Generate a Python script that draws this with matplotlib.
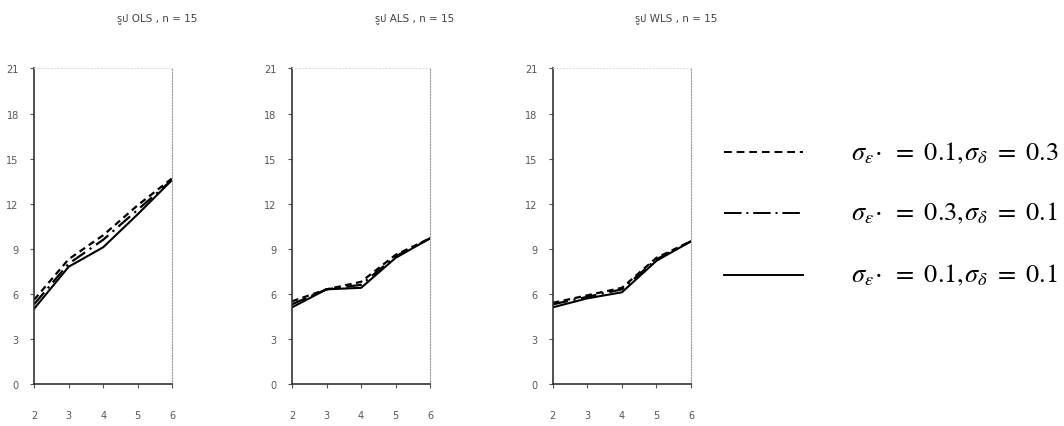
import matplotlib
matplotlib.use("Agg")
import matplotlib.pyplot as plt

# group sizes on the x axis
sizes = [2, 3, 4, 5, 6]

methods = ["OLS", "ALS", "WLS"]
titles = ["รูป OLS , n = 15", "รูป ALS , n = 15", "รูป WLS , n = 15"]

# sigma_eps = 0.1, sigma_delta = 0.3
dashed_vals = {
    "OLS": [5.6, 8.3, 9.9, 11.9, 13.7],
    "ALS": [5.5, 6.3, 6.8, 8.6, 9.7],
    "WLS": [5.4, 5.9, 6.4, 8.4, 9.5],
}
# sigma_eps = 0.3, sigma_delta = 0.1
dashdot_vals = {
    "OLS": [5.3, 8.0, 9.6, 11.6, 13.6],
    "ALS": [5.3, 6.3, 6.6, 8.5, 9.7],
    "WLS": [5.3, 5.8, 6.3, 8.3, 9.5],
}
# sigma_eps = 0.1, sigma_delta = 0.1
solid_vals = {
    "OLS": [5.0, 7.8, 9.1, 11.3, 13.6],
    "ALS": [5.1, 6.3, 6.4, 8.4, 9.7],
    "WLS": [5.1, 5.7, 6.1, 8.2, 9.5],
}

legend_labels = [
    r"$\sigma_{\varepsilon}\!\cdot\ =\ 0.1,\!\sigma_{\delta}\ =\ 0.3$",
    r"$\sigma_{\varepsilon}\!\cdot\ =\ 0.3,\!\sigma_{\delta}\ =\ 0.1$",
    r"$\sigma_{\varepsilon}\!\cdot\ =\ 0.1,\!\sigma_{\delta}\ =\ 0.1$",
]

plt.rcParams["mathtext.fontset"] = "stix"

fig = plt.figure(figsize=(10.64, 4.27), dpi=100)
lefts = [0.032, 0.2744, 0.5195]

dash_style = (0, (3, 2))
dashdot_style = (0, (7, 2.5, 1, 2.5))

for k, m in enumerate(methods):
    ax = fig.add_axes([lefts[k], 0.0984, 0.1300, 0.739])
    ax.plot(sizes, dashed_vals[m], color="black", lw=1.6, ls=dash_style)
    ax.plot(sizes, dashdot_vals[m], color="black", lw=1.6, ls=dashdot_style)
    ax.plot(sizes, solid_vals[m], color="black", lw=1.5)
    ax.set_xlim(2, 6)
    ax.set_ylim(0, 21)
    ax.set_xticks(sizes)
    ax.set_yticks(range(0, 22, 3))
    ax.tick_params(labelsize=7, colors="#555555", length=3, width=0.8)
    ax.tick_params(axis="x", pad=16)
    ax.tick_params(axis="y", pad=8)
    for s in ["left", "bottom"]:
        ax.spines[s].set_color("#333333")
        ax.spines[s].set_linewidth(1.2)
    ax.spines["right"].set_color("#999999")
    ax.spines["right"].set_linestyle((0, (1, 1.5)))
    ax.spines["right"].set_linewidth(0.8)
    ax.spines["top"].set_color("#dddddd")
    ax.spines["top"].set_linestyle((0, (1, 2)))
    ax.spines["top"].set_linewidth(0.8)
    fig.text(lefts[k] + 0.1156, 0.957, titles[k], fontsize=7.5, color="#444444",
             ha="center", va="center",
             family=["DejaVu Sans", "Noto Sans Thai", "Athiti"])

# legend drawn by hand on the right
styles = [(0, (4, 2.5)), (0, (9, 2.5, 1, 2.5)), "-"]
rows = [0.642, 0.5, 0.354]
for st, yy, lab in zip(styles, rows, legend_labels):
    fig.add_artist(plt.Line2D([0.68, 0.755], [yy, yy], color="black",
                              lw=1.4, ls=st, transform=fig.transFigure))
    fig.text(0.8, yy, lab, fontsize=19, va="center", ha="left")

fig.savefig("out.png", dpi=100)
